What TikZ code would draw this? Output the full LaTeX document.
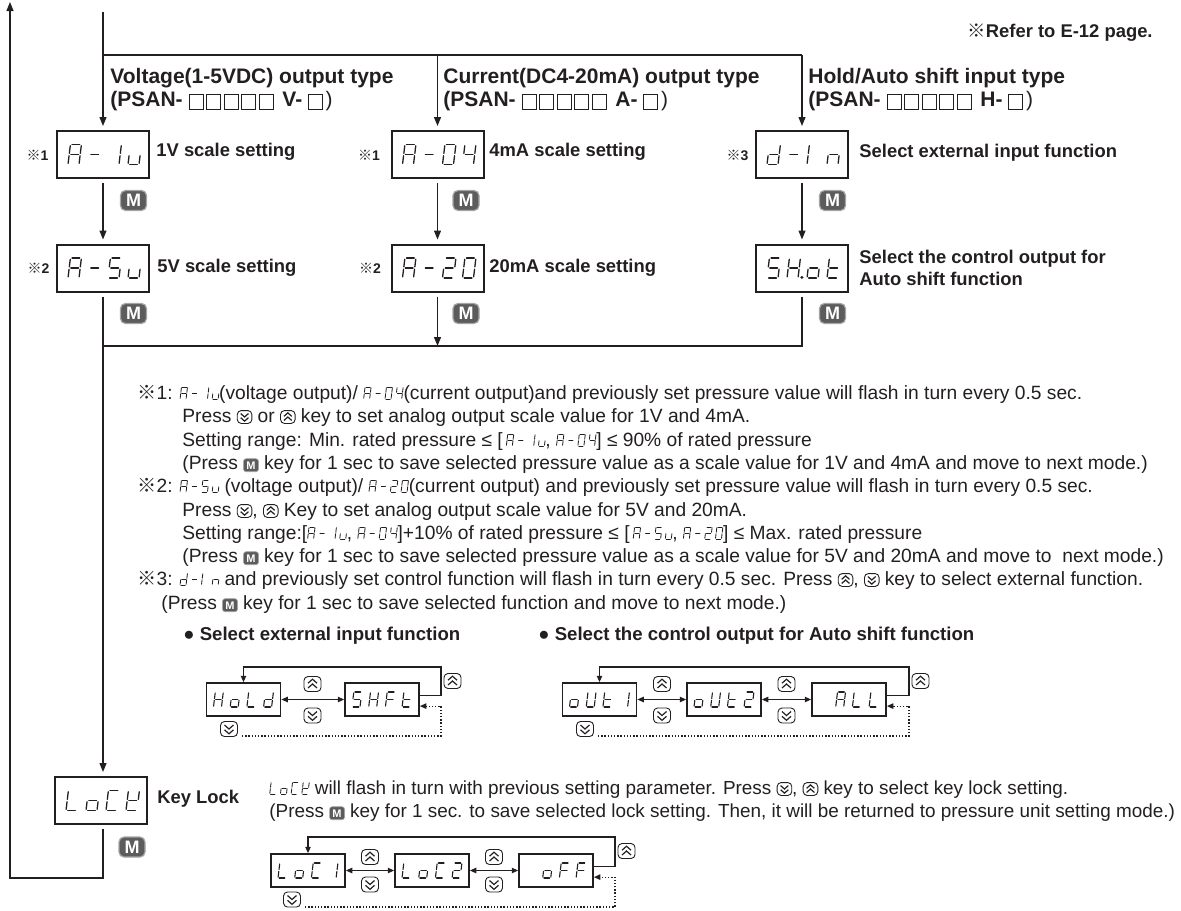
\documentclass[tikz,border=0pt]{standalone}
\usepackage{fontspec}
\setmainfont{Liberation Sans}
\newfontfamily\refmark{Noto Sans CJK JP}
\usetikzlibrary{arrows.meta,calc}
\definecolor{ink}{HTML}{231F20}
\definecolor{keygray}{HTML}{5C5C5C}

% segments of one display cell, 1 wide and 2 high
\def\sega{(0.15,2)--(0.85,2)}
\def\segb{(1,1.88)--(1,1.12)}
\def\segc{(1,0.88)--(1,0.12)}
\def\segd{(0.15,0)--(0.85,0)}
\def\sege{(0,0.12)--(0,0.88)}
\def\segf{(0,1.12)--(0,1.88)}
\def\segg{(0.15,1)--(0.85,1)}
\def\segp{(1.35,0.06) circle[radius=0.07]}
\def\segx{(0,0)}
\def\segglyph#1{\segloop#1\relax}
\def\segloop#1{\ifx\relax#1\else\segone{#1}\expandafter\segloop\fi}
\def\segone#1{\edef\segcmd{\noexpand\draw[segline] \csname seg#1\endcsname;}\segcmd}

% [style]{baseline left}{height}{width}{pitch}{glyphs}
\newcommand\segtext[6][]{%
  \pgfmathsetmacro\segu{#3*0.25}%
  \pgfmathsetmacro\segw{#4*0.5}%
  \begin{scope}[shift={#2}]
    \foreach \g [count=\i from 0] in {#6} {
      \begin{scope}[shift={(\i*#5,0)},x=\segw pt,y=\segu pt,xslant=0.12,#1]
        \expandafter\segglyph\expandafter{\g}
      \end{scope}
    }
  \end{scope}}

\tikzset{
  segline/.style={line cap=round},
  segbig/.style={line width=0.65pt},
  segsmall/.style={line width=0.55pt},
  seginl/.style={line width=0.42pt},
  keyframe/.style={draw,line width=0.45pt,rounded corners=2pt},
  chev/.style={line width=0.6pt},
  pics/upkey/.style={code={
    \draw[keyframe] (-8.5,-7.5) rectangle (8.5,7.5);
    \draw[chev] (-4.5,-0.8) -- (0,-4.8) -- (4.5,-0.8) (-4.5,4) -- (0,0) -- (4.5,4);}},
  pics/downkey/.style={code={
    \draw[keyframe] (-8.5,-7.5) rectangle (8.5,7.5);
    \draw[chev] (-4.5,0.8) -- (0,4.8) -- (4.5,0.8) (-4.5,-4) -- (0,0) -- (4.5,-4);}},
  mkey/.style={fill=keygray,draw=keygray!55,line width=0.6pt,rounded corners=2.5pt,
    text=white,font=\bfseries\fontsize{9}{9}\selectfont,
    minimum width=13pt,minimum height=10pt,inner sep=0pt},
  mkeyin/.style={fill=keygray,draw=keygray!55,line width=0.3pt,rounded corners=1.3pt,text=white,
    font=\bfseries\fontsize{5.5}{5.5}\selectfont,
    minimum width=7.5pt,minimum height=6.5pt,inner sep=0pt},
}

\newcommand\iseg[1]{\tikz[x=0.5pt,y=-0.5pt,baseline=0pt]{\segtext[seginl]{(0,0)}{12}{6}{10.7}{#1}}}
\newcommand\kup{\tikz[x=0.5pt,y=-0.5pt,baseline={(0,5)}]\pic[scale=0.86]{upkey};}
\newcommand\kdn{\tikz[x=0.5pt,y=-0.5pt,baseline={(0,5)}]\pic[scale=0.86]{downkey};}
\newcommand\kM{\tikz[baseline=(km.base)]\node[mkeyin](km){M};}
\newcommand\sq{\tikz[baseline=0pt]\draw[line width=0.4pt](0,-1.6pt) rectangle (7pt,5.6pt);\hspace{1.4pt}}
\newcommand\refm[1]{{\refmark\mdseries ※}#1}

\begin{document}
\begin{tikzpicture}[x=0.5pt,y=-0.5pt,color=ink,
  bigbox/.style={draw,line width=1pt,minimum width=46pt,minimum height=23.5pt,inner sep=0pt},
  sbox/.style={draw,line width=0.85pt,minimum width=37pt,minimum height=16.5pt,inner sep=0pt},
  line/.style={line width=0.6pt},
  flow/.style={line,-{Triangle[length=4.5pt,width=3.5pt]}},
  cyc/.style={line,-{Triangle[length=3.2pt,width=2.7pt]}},
  both/.style={line,{Triangle[length=3.2pt,width=2.7pt]}-{Triangle[length=3.2pt,width=2.7pt]}},
  dots/.style={line width=0.55pt,dash pattern=on 0.7pt off 0.9pt,-{Triangle[length=3.2pt,width=2.7pt]}},
  head/.style={anchor=base west,inner sep=0pt,font=\bfseries\fontsize{10.5}{12}\selectfont},
  lbl/.style={anchor=west,inner sep=0pt,font=\bfseries\fontsize{9.2}{11}\selectfont},
  star/.style={inner sep=0pt,font=\bfseries\fontsize{7}{8}\selectfont},
  note/.style={anchor=base west,inner sep=0pt,font=\fontsize{9.6}{11}\selectfont},
]
\useasboundingbox (0,0) rectangle (1181,910);

% headings
\node[anchor=base east,inner sep=0pt,font=\bfseries\fontsize{9.2}{11}\selectfont] (ref) at (1153,37) {\refm{Refer to E-12 page.}};
\node[head] (hv1) at (110,83) {Voltage(1-5VDC) output type};
\node[head] (hv2) at (110,106) {(PSAN- \sq\sq\sq\sq\sq\ V- \sq{\mdseries)}};
\node[head] (hc1) at (443,83) {Current(DC4-20mA) output type};
\node[head] (hc2) at (443,106) {(PSAN- \sq\sq\sq\sq\sq\ A- \sq{\mdseries)}};
\node[head] (hh1) at (808,83) {Hold/Auto shift input type};
\node[head] (hh2) at (808,106) {(PSAN- \sq\sq\sq\sq\sq\ H- \sq{\mdseries)}};

% mode boxes
\node[bigbox] (a1u) at (103,154.5) {};
\node[bigbox] (a04) at (437.5,154.5) {};
\node[bigbox] (din) at (802,154.5) {};
\node[bigbox] (a5u) at (103,268) {};
\node[bigbox] (a20) at (437.5,268) {};
\node[bigbox] (sho) at (802,268) {};
\node[bigbox] (lck) at (101,800.5) {};
\segtext[segbig]{($(a1u)+(-35,10)$)}{20}{11}{20}{abcefg,g,bc,cde}
\segtext[segbig]{($(a04)+(-35,10)$)}{20}{11}{20}{abcefg,g,abcdef,bcfg}
\segtext[segbig]{($(din)+(-35,10)$)}{20}{11}{20}{bcdeg,g,ef,ceg}
\segtext[segbig]{($(a5u)+(-35,10)$)}{20}{11}{20}{abcefg,g,acdfg,cde}
\segtext[segbig]{($(a20)+(-35,10)$)}{20}{11}{20}{abcefg,g,abdeg,abcdef}
\segtext[segbig]{($(sho)+(-35,10)$)}{20}{11}{20}{acdfg,bcefgp,cdeg,defg}
\segtext[segbig]{($(lck)+(-35,10)$)}{20}{11}{20}{def,cdeg,adef,bdefg}

\node[star] (s1) at (37.5,155) {\refm{1}};
\node[star] (s2) at (369,155) {\refm{1}};
\node[star] (s3) at (737.5,155) {\refm{3}};
\node[star] (s4) at (38.5,268) {\refm{2}};
\node[star] (s5) at (370,268) {\refm{2}};

\node[lbl] (l1) at (156,152) {1V scale setting};
\node[lbl] (l2) at (489,152) {4mA scale setting};
\node[lbl] (l3) at (859,153) {Select external input function};
\node[lbl] (l4) at (157,268) {5V scale setting};
\node[lbl] (l5) at (489,268) {20mA scale setting};
\node[lbl,align=left] (l6) at (859,268) {Select the control output for\\Auto shift function};
\node[lbl] (l7) at (157,799) {Key Lock};

\node[mkey] (m1) at (133.5,200.5) {M};
\node[mkey] (m2) at (466,200.5) {M};
\node[mkey] (m3) at (832.5,200.5) {M};
\node[mkey] (m4) at (133.5,313.5) {M};
\node[mkey] (m5) at (466,313.5) {M};
\node[mkey] (m6) at (832.5,313.5) {M};
\node[mkey] (m7) at (132,847) {M};

% flow lines
\coordinate (in) at (103,12);
\coordinate (split) at (103,55);
\coordinate (join) at (103,346);
\coordinate (back) at (10,878);
\coordinate (top) at (10,2);
\draw[flow,shorten >=2pt] (in) -- (a1u.north);
\draw[line] (split) -- (split -| din);
\draw[flow,shorten >=2pt] (split -| a04) -- (a04.north);
\draw[flow,shorten >=2pt] (split -| din) -- (din.north);
\draw[flow,shorten <=2pt,shorten >=2pt] (a1u.south) -- (a5u.north);
\draw[flow,shorten <=2pt,shorten >=2pt] (a04.south) -- (a20.north);
\draw[flow,shorten <=2pt,shorten >=2pt] (din.south) -- (sho.north);
\draw[flow,shorten <=2pt] (a20.south) -- (a20.south |- join);
\draw[line,shorten <=2pt] (sho.south) |- (join);
\draw[flow,shorten <=2pt,shorten >=2pt] (a5u.south) -- (a5u.south |- lck.north);
\draw[flow,shorten <=2pt] (lck.south -| a5u) |- (back) -- (top);

% notes
\node[note] (n1) at (137,399) {\refm{1}: \iseg{abcefg,g,bc,cde}(voltage output)/ \iseg{abcefg,g,abcdef,bcfg}(current output)and previously set pressure value will flash in turn every 0.5 sec.};
\node[note] (n2) at (182,422) {Press \kdn\ or \kup\ key to set analog output scale value for 1V and 4mA.};
\node[note] (n3) at (182,446) {Setting range: Min. rated pressure ≤ [\,\iseg{abcefg,g,bc,cde}, \iseg{abcefg,g,abcdef,bcfg}] ≤ 90\% of rated pressure};
\node[note] (n4) at (182,469) {(Press \kM\ key for 1 sec to save selected pressure value as a scale value for 1V and 4mA and move to next mode.)};
\node[note] (n5) at (137,492) {\refm{2}: \iseg{abcefg,g,acdfg,cde} (voltage output)/ \iseg{abcefg,g,abdeg,abcdef}(current output) and previously set pressure value will flash in turn every 0.5 sec.};
\node[note] (n6) at (182,516) {Press \kdn, \kup\ Key to set analog output scale value for 5V and 20mA.};
\node[note] (n7) at (182,539) {Setting range:[\iseg{abcefg,g,bc,cde}, \iseg{abcefg,g,abcdef,bcfg}]+10\% of rated pressure ≤ [\,\iseg{abcefg,g,acdfg,cde}, \iseg{abcefg,g,abdeg,abcdef}] ≤ Max. rated pressure};
\node[note] (n8) at (182,562) {(Press \kM\ key for 1 sec to save selected pressure value as a scale value for 5V and 20mA and move to\ \ next mode.)};
\node[note] (n9) at (137,585) {\refm{3}: \iseg{bcdeg,g,ef,ceg} and previously set control function will flash in turn every 0.5 sec. Press \kup, \kdn\ key to select external function.};
\node[note] (n10) at (161,609) {(Press \kM\ key for 1 sec to save selected function and move to next mode.)};

% external input cycle
\node[lbl,font=\bfseries\fontsize{9.3}{11}\selectfont] (t1) at (183,636) {● Select external input function};
\node[sbox] (hold) at (243.5,699.5) {};
\node[sbox] (shft) at (382,699.5) {};
\segtext[segsmall]{($(hold)+(-30,7.5)$)}{15}{8}{16.7}{bcefg,cdeg,def,bcdeg}
\segtext[segsmall]{($(shft)+(-30,7.5)$)}{15}{8}{16.7}{acdfg,bcefg,aefg,defg}
\draw[both] (hold) -- (shft);
\pic at (312.5,684) {upkey};
\pic at (312.5,715.5) {downkey};
\coordinate (r1) at (441,667);
\draw[cyc] ([yshift=2pt]shft.east) -| (r1) -| (hold.north);
\pic at (452.5,681) {upkey};
\pic at (229,729) {downkey};
\coordinate (d1a) at (242,736);
\coordinate (d1b) at (441,736);
\draw[dots] (d1a) -- (d1b) |- ([yshift=-3.3pt]shft.east);

% auto shift output cycle
\node[lbl,font=\bfseries\fontsize{9.3}{11}\selectfont] (t2) at (538,636) {● Select the control output for Auto shift function};
\node[sbox] (out1) at (599.5,699.5) {};
\node[sbox] (out2) at (724,699.5) {};
\node[sbox] (all) at (849,699.5) {};
\segtext[segsmall]{($(out1)+(-30,7.5)$)}{15}{8}{16.7}{cdeg,bcdef,defg,bc}
\segtext[segsmall]{($(out2)+(-30,7.5)$)}{15}{8}{16.7}{cdeg,bcdef,defg,abdeg}
\segtext[segsmall]{($(all)+(-30,7.5)$)}{15}{8}{16.7}{x,abcefg,def,def}
\draw[both] (out1) -- (out2);
\draw[both] (out2) -- (all);
\pic at (662,684) {upkey};
\pic at (662,715.5) {downkey};
\pic at (786.5,684) {upkey};
\pic at (786.5,715.5) {downkey};
\coordinate (r2) at (909,667);
\draw[cyc] ([yshift=2pt]all.east) -| (r2) -| (out1.north);
\pic at (920.5,681) {upkey};
\pic at (585,729) {downkey};
\coordinate (d2a) at (598,736);
\coordinate (d2b) at (909,736);
\draw[dots] (d2a) -- (d2b) |- ([yshift=-3.3pt]all.east);

% key lock
\node[note,font=\fontsize{9.45}{11}\selectfont] (k1) at (269,794) {\iseg{def,cdeg,adef,bdefg} will flash in turn with previous setting parameter. Press \kdn, \kup\ key to select key lock setting.};
\node[note,font=\fontsize{9.45}{11}\selectfont] (k2) at (269,817) {(Press \kM\ key for 1 sec. to save selected lock setting. Then, it will be returned to pressure unit setting mode.)};
\node[sbox] (loc1) at (308,870.5) {};
\node[sbox] (loc2) at (432,870.5) {};
\node[sbox] (off) at (556,870.5) {};
\segtext[segsmall]{($(loc1)+(-30,7.5)$)}{15}{8}{16.7}{def,cdeg,adef,bc}
\segtext[segsmall]{($(loc2)+(-30,7.5)$)}{15}{8}{16.7}{def,cdeg,adef,abdeg}
\segtext[segsmall]{($(off)+(-30,7.5)$)}{15}{8}{16.7}{x,cdeg,aefg,aefg}
\draw[both] (loc1) -- (loc2);
\draw[both] (loc2) -- (off);
\pic at (370,857) {upkey};
\pic at (370,884.5) {downkey};
\pic at (494,857) {upkey};
\pic at (494,884.5) {downkey};
\coordinate (r3) at (615,837);
\draw[cyc] ([yshift=2pt]off.east) -| (r3) -| (loc1.north);
\pic at (626.5,851) {upkey};
\pic at (292,899.5) {downkey};
\coordinate (d3a) at (305,907);
\coordinate (d3b) at (615,907);
\draw[dots] (d3a) -- (d3b) |- ([yshift=-3.3pt]off.east);
\end{tikzpicture}
\end{document}
